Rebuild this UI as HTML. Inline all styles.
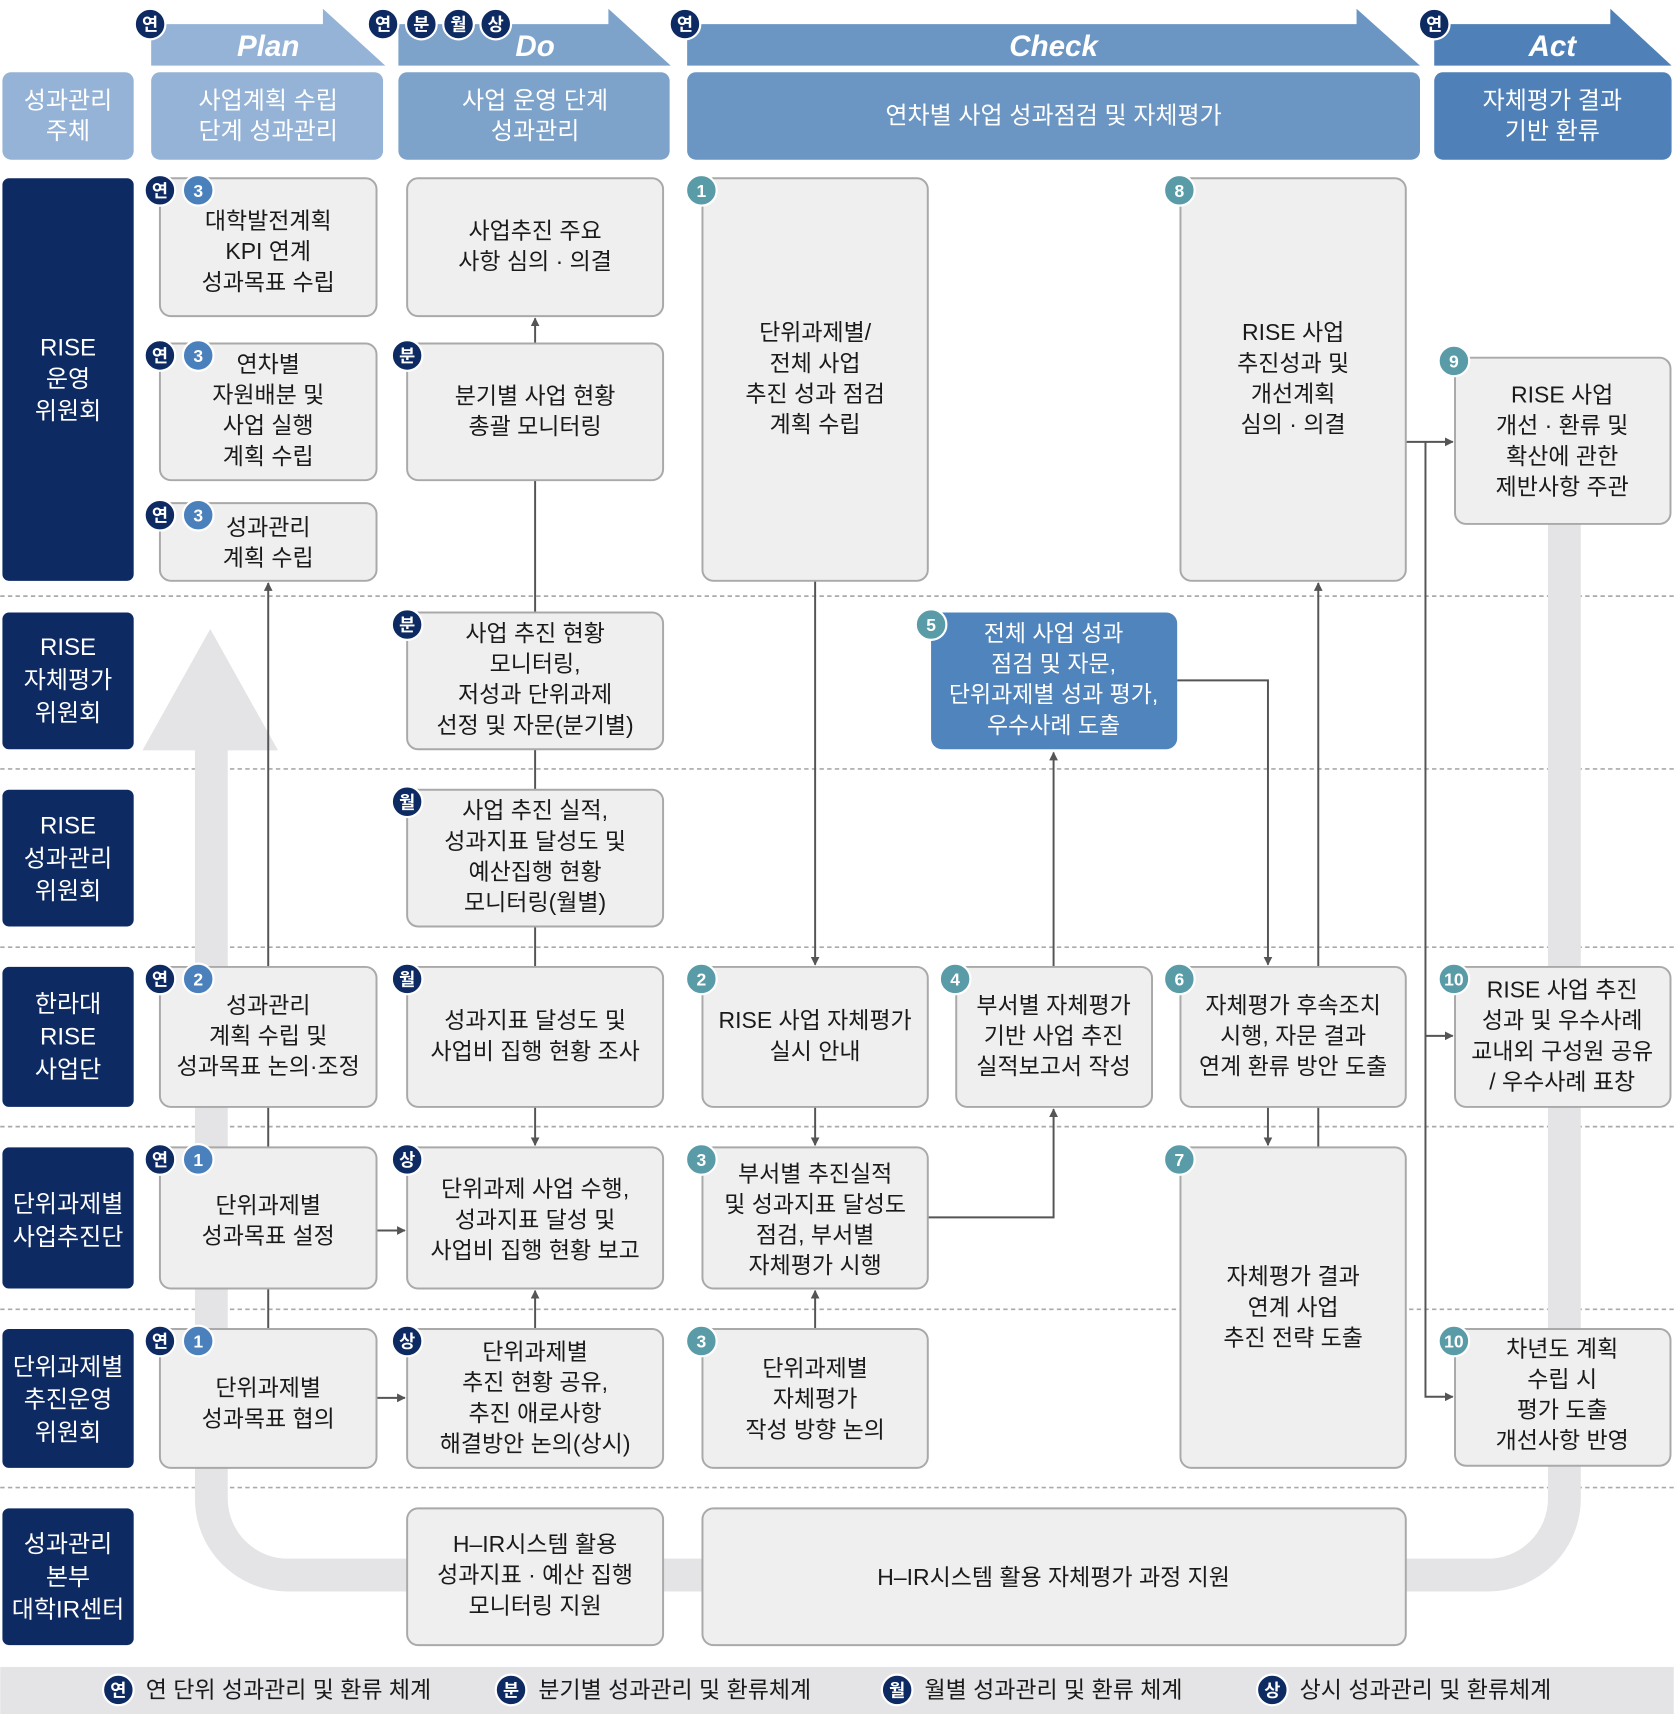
<!DOCTYPE html>
<html><head><meta charset="utf-8"><style>
html,body{margin:0;padding:0;background:#fff;}
svg{display:block;}
text{font-family:"Liberation Sans","Noto Sans CJK KR",sans-serif;}
.bx{fill:#efefef;stroke:#a9a9a9;stroke-width:1.8;}
.t{font-size:21px;fill:#1a1a1a;text-anchor:middle;}
.w{font-size:22px;fill:#fff;text-anchor:middle;}
.ln{stroke:#555;stroke-width:1.8;fill:none;}
.sep{stroke:#aaa;stroke-width:1.5;stroke-dasharray:4 3;}
.bd{fill:#0d2a63;stroke:#fff;stroke-width:2;}
.bb{fill:#4a80bb;stroke:#fff;stroke-width:2;}
.bt{fill:#5a9ba8;stroke:#fff;stroke-width:2;}
.bl{font-size:16px;fill:#fff;text-anchor:middle;font-weight:bold;}
.nv{fill:#0d2a63;}
</style></head><body>
<svg width="1674" height="1714" viewBox="0 0 1530 1567" xmlns="http://www.w3.org/2000/svg">
<defs>
<marker id="a" viewBox="0 0 10 10" refX="9" refY="5" markerWidth="8" markerHeight="8" orient="auto-start-reverse" markerUnits="userSpaceOnUse"><path d="M0,0 L10,5 L0,10z" fill="#555"/></marker>
</defs>
<!-- separators -->
<g class="sep">
<line x1="0" y1="545" x2="1530" y2="545"/><line x1="0" y1="703" x2="1530" y2="703"/>
<line x1="0" y1="866" x2="1530" y2="866"/><line x1="0" y1="1030" x2="1530" y2="1030"/>
<line x1="0" y1="1197" x2="1530" y2="1197"/><line x1="0" y1="1360" x2="1530" y2="1360"/>
</g>
<!-- big U arrow -->
<path d="M193,680 V1370 A70 70 0 0 0 263 1440 H1360 A70 70 0 0 0 1430 1370 V478" stroke="#e4e4e6" stroke-width="30" fill="none"/>
<polygon points="192,575 130,686 254,686" fill="#e4e4e6"/>

<!-- header arrows -->
<polygon points="138,22 295,22 295,8 352,60 138,60" fill="#95b3d6"/>
<polygon points="364,22 556,22 556,8 613,60 364,60" fill="#7ea3cb"/>
<polygon points="628,22 1240,22 1240,8 1298,60 628,60" fill="#6b96c4"/>
<polygon points="1311,22 1472,22 1472,8 1528,60 1311,60" fill="#4f80b8"/>
<g font-style="italic" font-weight="bold" font-size="27" fill="#fff" text-anchor="middle">
<text x="245" y="51">Plan</text><text x="489" y="51">Do</text><text x="963" y="51">Check</text><text x="1419" y="51">Act</text></g>
<rect x="2" y="66" width="120" height="80" rx="8" fill="#95b3d6"/>
<rect x="138" y="66" width="212" height="80" rx="8" fill="#95b3d6"/>
<rect x="364" y="66" width="248" height="80" rx="8" fill="#7ea3cb"/>
<rect x="628" y="66" width="670" height="80" rx="8" fill="#6b96c4"/>
<rect x="1311" y="66" width="217" height="80" rx="8" fill="#4f80b8"/>
<text class="w"><tspan x="62" y="99">성과관리</tspan><tspan x="62" y="127">주체</tspan></text>
<text class="w"><tspan x="245" y="99">사업계획 수립</tspan><tspan x="245" y="127">단계 성과관리</tspan></text>
<text class="w"><tspan x="489" y="99">사업 운영 단계</tspan><tspan x="489" y="127">성과관리</tspan></text>
<text class="w" x="963" y="113">연차별 사업 성과점검 및 자체평가</text>
<text class="w"><tspan x="1419" y="99">자체평가 결과</tspan><tspan x="1419" y="127">기반 환류</tspan></text>

<!-- left labels -->
<g class="nv">
<rect x="2" y="163" width="120" height="368" rx="6"/><rect x="2" y="560" width="120" height="125" rx="6"/>
<rect x="2" y="722" width="120" height="125" rx="6"/><rect x="2" y="884" width="120" height="128" rx="6"/>
<rect x="2" y="1049" width="120" height="129" rx="6"/><rect x="2" y="1215" width="120" height="127" rx="6"/>
<rect x="2" y="1379" width="120" height="125" rx="6"/></g>
<text class="w"><tspan x="62" y="325">RISE</tspan><tspan x="62" y="354">운영</tspan><tspan x="62" y="383">위원회</tspan></text>
<text class="w"><tspan x="62" y="599">RISE</tspan><tspan x="62" y="629">자체평가</tspan><tspan x="62" y="659">위원회</tspan></text>
<text class="w"><tspan x="62" y="762">RISE</tspan><tspan x="62" y="792">성과관리</tspan><tspan x="62" y="822">위원회</tspan></text>
<text class="w"><tspan x="62" y="925">한라대</tspan><tspan x="62" y="955">RISE</tspan><tspan x="62" y="985">사업단</tspan></text>
<text class="w"><tspan x="62" y="1108">단위과제별</tspan><tspan x="62" y="1138">사업추진단</tspan></text>
<text class="w"><tspan x="62" y="1257">단위과제별</tspan><tspan x="62" y="1287">추진운영</tspan><tspan x="62" y="1317">위원회</tspan></text>
<text class="w"><tspan x="62" y="1419">성과관리</tspan><tspan x="62" y="1449">본부</tspan><tspan x="62" y="1479">대학IR센터</tspan></text>

<!-- connectors -->
<g class="ln">
<line x1="245" y1="1215" x2="245" y2="533" marker-end="url(#a)"/>
<line x1="344" y1="1125" x2="370" y2="1125" marker-end="url(#a)"/>
<line x1="344" y1="1278" x2="370" y2="1278" marker-end="url(#a)"/>
<line x1="489" y1="314" x2="489" y2="291" marker-end="url(#a)"/>
<line x1="489" y1="439" x2="489" y2="1047" marker-end="url(#a)"/>
<line x1="489" y1="1215" x2="489" y2="1180" marker-end="url(#a)"/>
<line x1="745" y1="531" x2="745" y2="882" marker-end="url(#a)"/>
<line x1="745" y1="1012" x2="745" y2="1047" marker-end="url(#a)"/>
<line x1="745" y1="1215" x2="745" y2="1180" marker-end="url(#a)"/>
<polyline points="848,1113 963,1113 963,1014" marker-end="url(#a)"/>
<line x1="963" y1="884" x2="963" y2="688" marker-end="url(#a)"/>
<polyline points="1076,622 1159,622 1159,882" marker-end="url(#a)"/>
<line x1="1159" y1="1012" x2="1159" y2="1047" marker-end="url(#a)"/>
<line x1="1205" y1="1049" x2="1205" y2="533" marker-end="url(#a)"/>
<line x1="1285" y1="404" x2="1328" y2="404" marker-end="url(#a)"/>
<polyline points="1303,404 1303,1277 1328,1277" marker-end="url(#a)"/>
<line x1="1303" y1="947" x2="1328" y2="947" marker-end="url(#a)"/>
</g>

<!-- Plan boxes -->
<rect class="bx" x="146" y="163" width="198" height="126" rx="10"/>
<text class="t"><tspan x="245" y="209">대학발전계획</tspan><tspan x="245" y="237">KPI 연계</tspan><tspan x="245" y="265">성과목표 수립</tspan></text>
<rect class="bx" x="146" y="314" width="198" height="125" rx="10"/>
<text class="t"><tspan x="245" y="340">연차별</tspan><tspan x="245" y="368">자원배분 및</tspan><tspan x="245" y="396">사업 실행</tspan><tspan x="245" y="424">계획 수립</tspan></text>
<rect class="bx" x="146" y="460" width="198" height="71" rx="10"/>
<text class="t"><tspan x="245" y="489">성과관리</tspan><tspan x="245" y="517">계획 수립</tspan></text>
<rect class="bx" x="146" y="884" width="198" height="128" rx="10"/>
<text class="t"><tspan x="245" y="926">성과관리</tspan><tspan x="245" y="954">계획 수립 및</tspan><tspan x="245" y="982">성과목표 논의·조정</tspan></text>
<rect class="bx" x="146" y="1049" width="198" height="129" rx="10"/>
<text class="t"><tspan x="245" y="1109">단위과제별</tspan><tspan x="245" y="1137">성과목표 설정</tspan></text>
<rect class="bx" x="146" y="1215" width="198" height="127" rx="10"/>
<text class="t"><tspan x="245" y="1276">단위과제별</tspan><tspan x="245" y="1304">성과목표 협의</tspan></text>

<!-- Do boxes -->
<rect class="bx" x="372" y="163" width="234" height="126" rx="10"/>
<text class="t"><tspan x="489" y="218">사업추진 주요</tspan><tspan x="489" y="246">사항 심의 · 의결</tspan></text>
<rect class="bx" x="372" y="314" width="234" height="125" rx="10"/>
<text class="t"><tspan x="489" y="369">분기별 사업 현황</tspan><tspan x="489" y="397">총괄 모니터링</tspan></text>
<rect class="bx" x="372" y="560" width="234" height="125" rx="10"/>
<text class="t"><tspan x="489" y="586">사업 추진 현황</tspan><tspan x="489" y="614">모니터링,</tspan><tspan x="489" y="642">저성과 단위과제</tspan><tspan x="489" y="670">선정 및 자문(분기별)</tspan></text>
<rect class="bx" x="372" y="722" width="234" height="125" rx="10"/>
<text class="t"><tspan x="489" y="748">사업 추진 실적,</tspan><tspan x="489" y="776">성과지표 달성도 및</tspan><tspan x="489" y="804">예산집행 현황</tspan><tspan x="489" y="832">모니터링(월별)</tspan></text>
<rect class="bx" x="372" y="884" width="234" height="128" rx="10"/>
<text class="t"><tspan x="489" y="940">성과지표 달성도 및</tspan><tspan x="489" y="968">사업비 집행 현황 조사</tspan></text>
<rect class="bx" x="372" y="1049" width="234" height="129" rx="10"/>
<text class="t"><tspan x="489" y="1094">단위과제 사업 수행,</tspan><tspan x="489" y="1122">성과지표 달성 및</tspan><tspan x="489" y="1150">사업비 집행 현황 보고</tspan></text>
<rect class="bx" x="372" y="1215" width="234" height="127" rx="10"/>
<text class="t"><tspan x="489" y="1243">단위과제별</tspan><tspan x="489" y="1271">추진 현황 공유,</tspan><tspan x="489" y="1299">추진 애로사항</tspan><tspan x="489" y="1327">해결방안 논의(상시)</tspan></text>
<rect class="bx" x="372" y="1379" width="234" height="125" rx="10"/>
<text class="t"><tspan x="489" y="1419">H–IR시스템 활용</tspan><tspan x="489" y="1447">성과지표 · 예산 집행</tspan><tspan x="489" y="1475">모니터링 지원</tspan></text>

<!-- Check boxes -->
<rect class="bx" x="642" y="163" width="206" height="368" rx="10"/>
<text class="t"><tspan x="745" y="311">단위과제별/</tspan><tspan x="745" y="339">전체 사업</tspan><tspan x="745" y="367">추진 성과 점검</tspan><tspan x="745" y="395">계획 수립</tspan></text>
<rect class="bx" x="1079" y="163" width="206" height="368" rx="10"/>
<text class="t"><tspan x="1182" y="311">RISE 사업</tspan><tspan x="1182" y="339">추진성과 및</tspan><tspan x="1182" y="367">개선계획</tspan><tspan x="1182" y="395">심의 · 의결</tspan></text>
<rect x="851" y="560" width="225" height="125" rx="10" fill="#4f84bd"/>
<text class="t" style="fill:#fff"><tspan x="963" y="586">전체 사업 성과</tspan><tspan x="963" y="614">점검 및 자문,</tspan><tspan x="963" y="642">단위과제별 성과 평가,</tspan><tspan x="963" y="670">우수사례 도출</tspan></text>
<rect class="bx" x="642" y="884" width="206" height="128" rx="10"/>
<text class="t"><tspan x="745" y="940">RISE 사업 자체평가</tspan><tspan x="745" y="968">실시 안내</tspan></text>
<rect class="bx" x="874" y="884" width="179" height="128" rx="10"/>
<text class="t"><tspan x="963" y="926">부서별 자체평가</tspan><tspan x="963" y="954">기반 사업 추진</tspan><tspan x="963" y="982">실적보고서 작성</tspan></text>
<rect class="bx" x="1079" y="884" width="206" height="128" rx="10"/>
<text class="t"><tspan x="1182" y="926">자체평가 후속조치</tspan><tspan x="1182" y="954">시행, 자문 결과</tspan><tspan x="1182" y="982">연계 환류 방안 도출</tspan></text>
<rect class="bx" x="642" y="1049" width="206" height="129" rx="10"/>
<text class="t"><tspan x="745" y="1080">부서별 추진실적</tspan><tspan x="745" y="1108">및 성과지표 달성도</tspan><tspan x="745" y="1136">점검, 부서별</tspan><tspan x="745" y="1164">자체평가 시행</tspan></text>
<rect class="bx" x="642" y="1215" width="206" height="127" rx="10"/>
<text class="t"><tspan x="745" y="1258">단위과제별</tspan><tspan x="745" y="1286">자체평가</tspan><tspan x="745" y="1314">작성 방향 논의</tspan></text>
<rect class="bx" x="1079" y="1049" width="206" height="293" rx="10"/>
<text class="t"><tspan x="1182" y="1174">자체평가 결과</tspan><tspan x="1182" y="1202">연계 사업</tspan><tspan x="1182" y="1230">추진 전략 도출</tspan></text>
<rect class="bx" x="642" y="1379" width="643" height="125" rx="10"/>
<text class="t" x="963" y="1449">H–IR시스템 활용  자체평가 과정 지원</text>

<!-- Act boxes -->
<rect class="bx" x="1330" y="327" width="197" height="152" rx="10"/>
<text class="t"><tspan x="1428" y="368">RISE 사업</tspan><tspan x="1428" y="396">개선 · 환류 및</tspan><tspan x="1428" y="424">확산에 관한</tspan><tspan x="1428" y="452">제반사항 주관</tspan></text>
<rect class="bx" x="1330" y="884" width="197" height="128" rx="10"/>
<text class="t"><tspan x="1428" y="912">RISE 사업 추진</tspan><tspan x="1428" y="940">성과 및 우수사례</tspan><tspan x="1428" y="968">교내외 구성원 공유</tspan><tspan x="1428" y="996">/ 우수사례 표창</tspan></text>
<rect class="bx" x="1330" y="1215" width="197" height="125" rx="10"/>
<text class="t"><tspan x="1428" y="1240">차년도 계획</tspan><tspan x="1428" y="1268">수립 시</tspan><tspan x="1428" y="1296">평가 도출</tspan><tspan x="1428" y="1324">개선사항 반영</tspan></text>

<!-- badges -->
<g>
<circle class="bd" cx="137" cy="22" r="14"/><text class="bl" x="137" y="28">연</text>
<circle class="bd" cx="350" cy="22" r="14"/><text class="bl" x="350" y="28">연</text>
<circle class="bd" cx="385" cy="22" r="14"/><text class="bl" x="385" y="28">분</text>
<circle class="bd" cx="419" cy="22" r="14"/><text class="bl" x="419" y="28">월</text>
<circle class="bd" cx="453" cy="22" r="14"/><text class="bl" x="453" y="28">상</text>
<circle class="bd" cx="626" cy="22" r="14"/><text class="bl" x="626" y="28">연</text>
<circle class="bd" cx="1311" cy="22" r="14"/><text class="bl" x="1311" y="28">연</text>

<circle class="bd" cx="146" cy="174" r="14"/><text class="bl" x="146" y="180">연</text>
<circle class="bb" cx="181" cy="174" r="14"/><text class="bl" x="181" y="180">3</text>
<circle class="bd" cx="146" cy="325" r="14"/><text class="bl" x="146" y="331">연</text>
<circle class="bb" cx="181" cy="325" r="14"/><text class="bl" x="181" y="331">3</text>
<circle class="bd" cx="146" cy="471" r="14"/><text class="bl" x="146" y="477">연</text>
<circle class="bb" cx="181" cy="471" r="14"/><text class="bl" x="181" y="477">3</text>
<circle class="bd" cx="146" cy="895" r="14"/><text class="bl" x="146" y="901">연</text>
<circle class="bb" cx="181" cy="895" r="14"/><text class="bl" x="181" y="901">2</text>
<circle class="bd" cx="146" cy="1060" r="14"/><text class="bl" x="146" y="1066">연</text>
<circle class="bb" cx="181" cy="1060" r="14"/><text class="bl" x="181" y="1066">1</text>
<circle class="bd" cx="146" cy="1226" r="14"/><text class="bl" x="146" y="1232">연</text>
<circle class="bb" cx="181" cy="1226" r="14"/><text class="bl" x="181" y="1232">1</text>

<circle class="bd" cx="372" cy="325" r="14"/><text class="bl" x="372" y="331">분</text>
<circle class="bd" cx="372" cy="571" r="14"/><text class="bl" x="372" y="577">분</text>
<circle class="bd" cx="372" cy="733" r="14"/><text class="bl" x="372" y="739">월</text>
<circle class="bd" cx="372" cy="895" r="14"/><text class="bl" x="372" y="901">월</text>
<circle class="bd" cx="372" cy="1060" r="14"/><text class="bl" x="372" y="1066">상</text>
<circle class="bd" cx="372" cy="1226" r="14"/><text class="bl" x="372" y="1232">상</text>

<circle class="bt" cx="641" cy="174" r="14"/><text class="bl" x="641" y="180">1</text>
<circle class="bt" cx="1078" cy="174" r="14"/><text class="bl" x="1078" y="180">8</text>
<circle class="bt" cx="851" cy="571" r="14"/><text class="bl" x="851" y="577">5</text>
<circle class="bt" cx="641" cy="895" r="14"/><text class="bl" x="641" y="901">2</text>
<circle class="bt" cx="873" cy="895" r="14"/><text class="bl" x="873" y="901">4</text>
<circle class="bt" cx="1078" cy="895" r="14"/><text class="bl" x="1078" y="901">6</text>
<circle class="bt" cx="641" cy="1060" r="14"/><text class="bl" x="641" y="1066">3</text>
<circle class="bt" cx="641" cy="1226" r="14"/><text class="bl" x="641" y="1232">3</text>
<circle class="bt" cx="1078" cy="1060" r="14"/><text class="bl" x="1078" y="1066">7</text>
<circle class="bt" cx="1329" cy="330" r="14"/><text class="bl" x="1329" y="336">9</text>
<circle class="bt" cx="1329" cy="895" r="14"/><text class="bl" x="1329" y="901">10</text>
<circle class="bt" cx="1329" cy="1226" r="14"/><text class="bl" x="1329" y="1232">10</text>
</g>

<!-- legend -->
<rect x="0" y="1524" width="1530" height="43" fill="#e4e4e6"/>
<circle class="bd" cx="108" cy="1545" r="14"/><text class="bl" x="108" y="1551">연</text>
<text x="133" y="1552" font-size="21" fill="#1a1a1a">연 단위 성과관리 및 환류 체계</text>
<circle class="bd" cx="467" cy="1545" r="14"/><text class="bl" x="467" y="1551">분</text>
<text x="492" y="1552" font-size="21" fill="#1a1a1a">분기별 성과관리 및 환류체계</text>
<circle class="bd" cx="820" cy="1545" r="14"/><text class="bl" x="820" y="1551">월</text>
<text x="845" y="1552" font-size="21" fill="#1a1a1a">월별 성과관리 및 환류 체계</text>
<circle class="bd" cx="1163" cy="1545" r="14"/><text class="bl" x="1163" y="1551">상</text>
<text x="1188" y="1552" font-size="21" fill="#1a1a1a">상시 성과관리 및 환류체계</text>
</svg>
</body></html>
